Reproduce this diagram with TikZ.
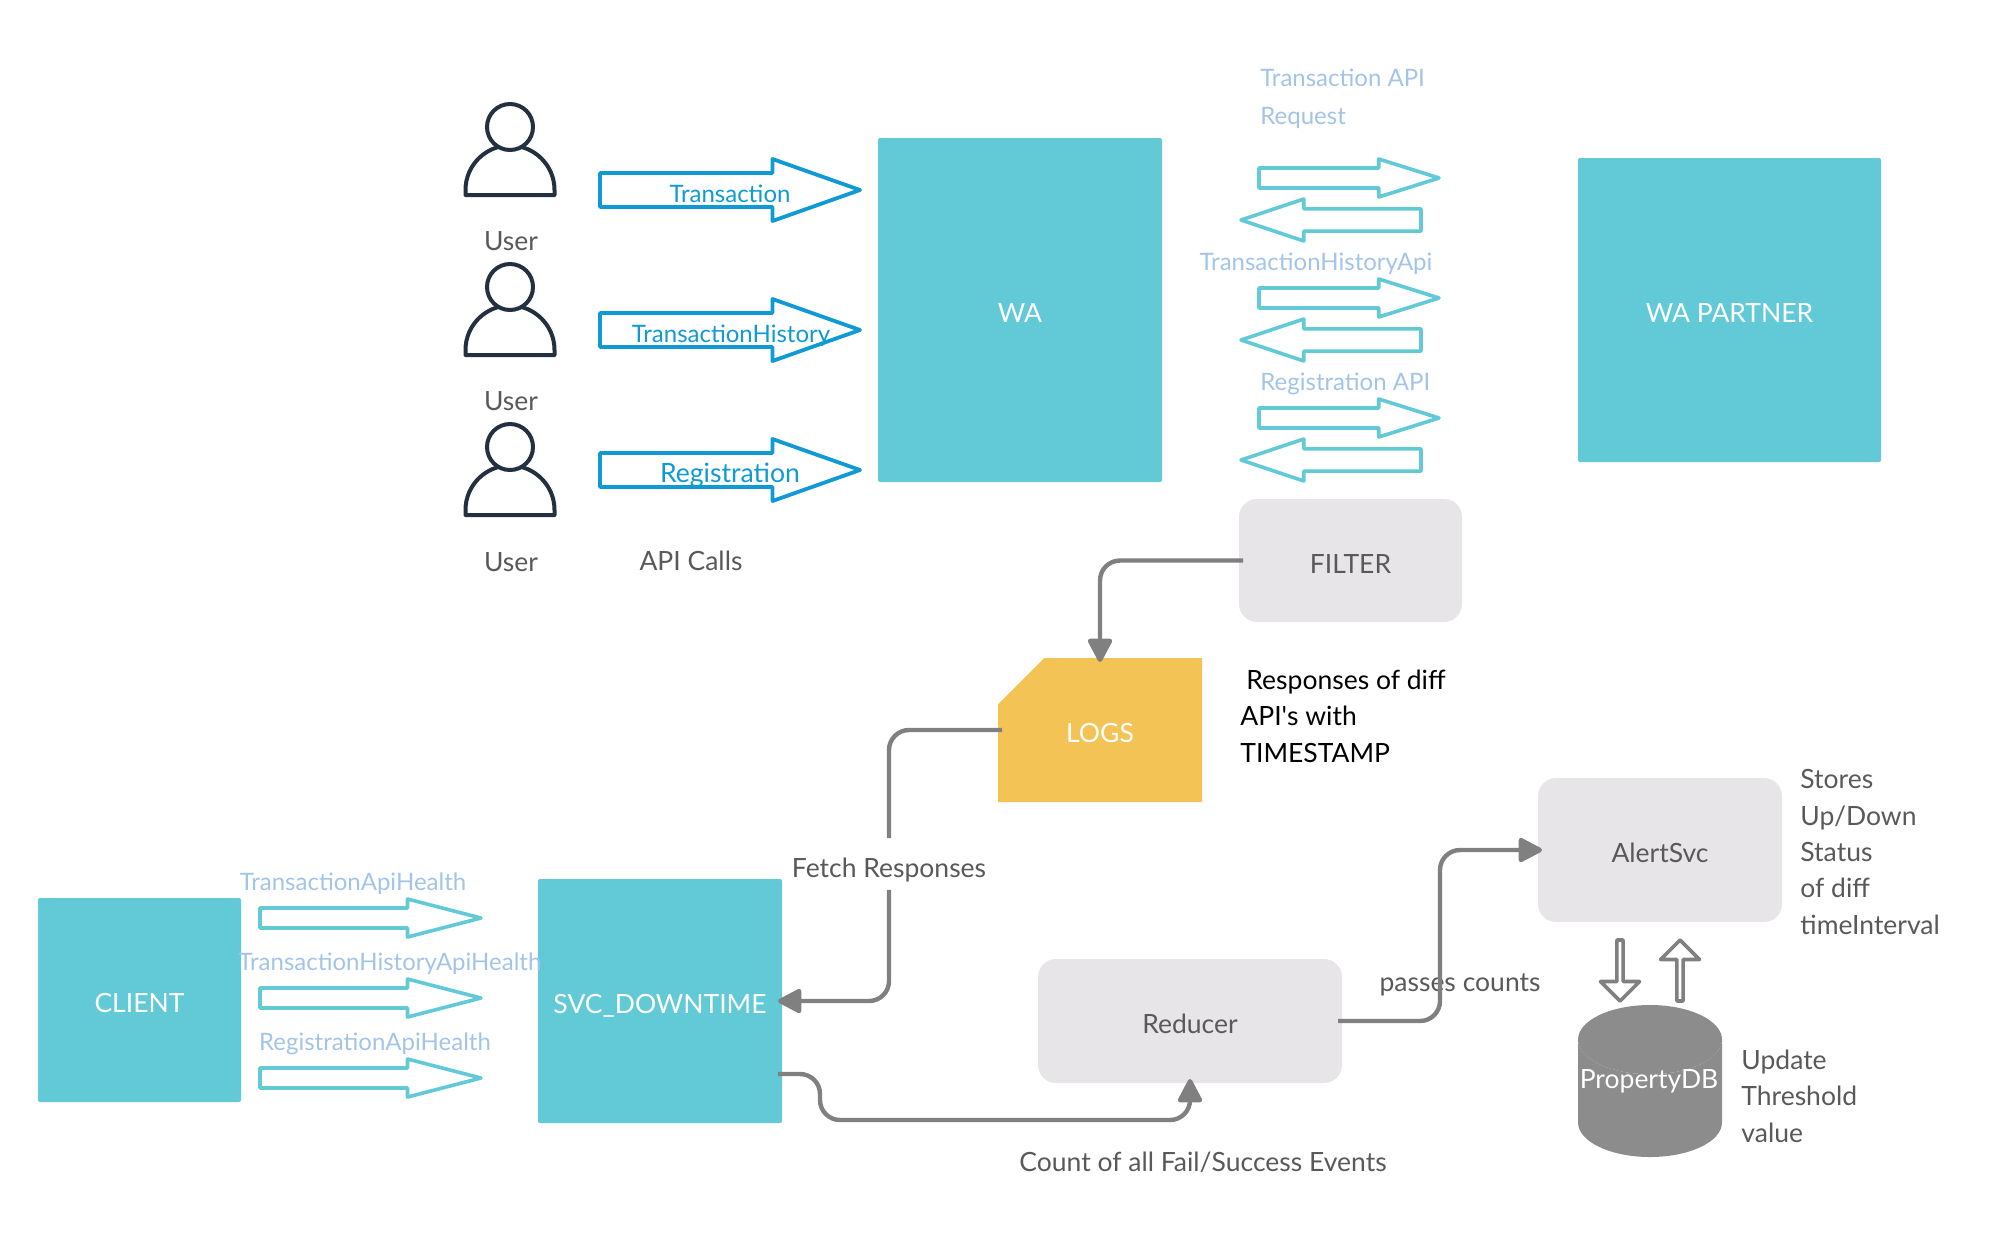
\documentclass[tikz,border=0pt]{standalone}
\usepackage{fontspec}
\setmainfont{Lato}
\usepackage{tikz}
\usetikzlibrary{arrows.meta, shapes.arrows, shapes.geometric, shapes.misc}
\definecolor{tealbox}{HTML}{62C9D6}
\definecolor{greybox}{HTML}{E8E5E8}
\definecolor{logsyellow}{HTML}{F4C356}
\definecolor{dbgrey}{HTML}{8C8C8C}
\definecolor{flowgrey}{HTML}{808080}
\definecolor{apiblue}{HTML}{0F9AD6}
\definecolor{paleblue}{HTML}{A2C4E8}
\definecolor{usernavy}{HTML}{22303F}
\definecolor{textgrey}{HTML}{595959}
\tikzstyle{mainbox}=[rectangle, fill=tealbox, rounded corners=1pt, text=white, font=\fontsize{13.25}{16}\selectfont, inner sep=0pt, outer sep=0pt, text height=12.5pt, text depth=0pt]
\tikzstyle{softbox}=[rectangle, fill=greybox, rounded corners=9pt, text=textgrey, font=\fontsize{13.25}{16}\selectfont, inner sep=0pt, outer sep=0pt, text height=12.5pt, text depth=0pt]
\tikzstyle{plaintext}=[text=textgrey, font=\fontsize{13.25}{18.2}\selectfont, inner sep=0pt, align=left]
\tikzstyle{palelabel}=[text=paleblue, font=\fontsize{12}{16}\selectfont, inner sep=0pt]
\tikzstyle{apilabel}=[text=apiblue, font=\fontsize{12}{16}\selectfont, inner sep=0pt]
\tikzstyle{blockarrow}=[single arrow, inner sep=0pt, outer sep=0pt, line join=round, single arrow head indent=0pt, anchor=tail]
\tikzstyle{apiarrow}=[blockarrow, draw=apiblue, line width=1.9pt, inner ysep=7pt, minimum height=130pt, minimum width=31pt, single arrow head extend=6.5pt, single arrow tip angle=39]
\tikzstyle{wideright}=[blockarrow, draw=tealbox, line width=1.8pt, inner ysep=3.9pt, minimum height=90pt, minimum width=19pt, single arrow head extend=4.3pt, single arrow tip angle=35]
\tikzstyle{wideleft}=[blockarrow, draw=tealbox, line width=1.8pt, inner ysep=4.6pt, minimum height=90pt, minimum width=21pt, single arrow head extend=4.9pt, single arrow tip angle=37, shape border rotate=180]
\tikzstyle{healtharrow}=[blockarrow, draw=tealbox, line width=1.8pt, inner ysep=3.9pt, minimum height=110.5pt, minimum width=19pt, single arrow head extend=4.3pt, single arrow tip angle=29]
\tikzstyle{dbarrow}=[blockarrow, draw=flowgrey, line width=1.8pt, inner ysep=4.9pt, minimum height=30.5pt, minimum width=19.5pt, single arrow head extend=4.8pt, single arrow tip angle=90]
\tikzstyle{flowline}=[draw=flowgrey, line width=2.2pt, rounded corners=10pt, shorten <=-2pt, shorten >=-2pt, -{Triangle[round, width=13pt, length=13pt]}]
\tikzstyle{usershape}=[draw=usernavy, line width=2pt, line join=round]

\begin{document}
\begin{tikzpicture}[x=.5pt, y=-.5pt]
    \useasboundingbox (0,0) rectangle (2000,1238);

    \draw[usershape] (465.5,195) -- (465.5,190) arc (180:360:44.5) -- (554.5,195) -- cycle;
    \draw[usershape, fill=white] (510,127) circle (23);
    \draw[usershape] (465.5,355) -- (465.5,350) arc (180:360:44.5) -- (554.5,355) -- cycle;
    \draw[usershape, fill=white] (510,287) circle (23);
    \draw[usershape] (465.5,515) -- (465.5,510) arc (180:360:44.5) -- (554.5,515) -- cycle;
    \draw[usershape, fill=white] (510,447) circle (23);

    \node[plaintext] (userone) at (511,241) {User};
    \node[plaintext] (usertwo) at (511,401) {User};
    \node[plaintext] (userthree) at (511,562) {User};
    \node[plaintext] (apicalls) at (691,561) {API Calls};

    \node[mainbox, minimum width=142pt, minimum height=172pt] (WA) at (1020,310) {WA};
    \node[mainbox, minimum width=151.5pt, minimum height=152pt] (WApartner) at (1729.5,310) {WA PARTNER};
    \node[softbox, minimum width=111.5pt, minimum height=61.5pt] (FILTER) at (1350.5,560.5) {FILTER};
    \node[chamfered rectangle, chamfered rectangle corners=north west, chamfered rectangle xsep=19pt, chamfered rectangle ysep=21pt, fill=logsyellow, text=white, font=\fontsize{13.25}{16}\selectfont, inner sep=0pt, outer sep=0pt, text height=12.5pt, text depth=0pt, minimum width=102pt, minimum height=72pt] (LOGS) at (1100,730) {LOGS};
    \node[mainbox, minimum width=101.5pt, minimum height=102pt] (CLIENT) at (139.5,1000) {CLIENT};
    \node[mainbox, minimum width=122pt, minimum height=122pt] (SVC) at (660,1001) {SVC\_DOWNTIME};
    \node[softbox, minimum width=152pt, minimum height=62pt] (Reducer) at (1190,1021) {Reducer};
    \node[softbox, minimum width=122pt, minimum height=72pt] (AlertSvc) at (1660,850) {AlertSvc};
    \node[cylinder, shape border rotate=90, aspect=.5, cylinder uses custom fill, cylinder body fill=dbgrey, cylinder end fill=dbgrey, font=\fontsize{13.25}{16}\selectfont, inner sep=0pt, outer sep=0pt, minimum width=72pt, minimum height=76pt, anchor=shape center] (PropertyDB) at (1650,1081) {\phantom{PropertyDB}};
    \node[text=white, font=\fontsize{13.25}{16}\selectfont, inner sep=0pt] (dblabel) at (1649,1081) {PropertyDB};

    \node[apiarrow] (txnarrow) at (600,190) {};
    \node[apiarrow] (historyarrow) at (600,330) {};
    \node[apiarrow] (regarrow) at (600,470) {};
    \node[apilabel] (txnlabel) at (730,194) {Transaction};
    \node[apilabel] (historylabel) at (731,336) {TransactionHistory};
    \node[apilabel, font=\fontsize{13.3}{16}\selectfont] (reglabel) at (730,475) {Registration};

    \node[wideright] (txnreq) at (1259,178) {};
    \node[wideleft] (txnres) at (1421,220) {};
    \node[wideright] (historyreq) at (1259,298) {};
    \node[wideleft] (historyres) at (1421,340) {};
    \node[wideright] (regreq) at (1259,418) {};
    \node[wideleft] (regres) at (1421,460) {};
    \node[palelabel, anchor=west, align=left, font=\fontsize{12}{19}\selectfont] (txnapi) at (1260,99) {Transaction API\\Request};
    \node[palelabel] (historyapi) at (1316,264) {TransactionHistoryApi};
    \node[palelabel, anchor=west] (regapi) at (1260,384) {Registration API};

    \node[healtharrow] (txnhealth) at (260,918) {};
    \node[healtharrow] (historyhealth) at (260,998) {};
    \node[healtharrow] (reghealth) at (260,1078) {};
    \node[palelabel] (txnhealthlabel) at (353,884) {TransactionApiHealth};
    \node[palelabel] (historyhealthlabel) at (390,964) {TransactionHistoryApiHealth};
    \node[palelabel] (reghealthlabel) at (375,1044) {RegistrationApiHealth};

    \node[dbarrow, shape border rotate=270] (dbdown) at (1620,940) {};
    \node[dbarrow, shape border rotate=90] (dbup) at (1680,1001) {};

    \node[plaintext, minimum height=27.5pt, text height=11.5pt, text depth=0pt] (fetchlabel) at (889,866) {Fetch Responses};
    \node[plaintext] (passes) at (1460,985) {passes counts};
    \node[plaintext] (countlabel) at (1203,1162) {Count of all Fail/Success Events};
    \node[plaintext, text=black, anchor=west] (diffnote) at (1240,716) {\hspace{3pt}Responses of diff\\API\textquotesingle s with\\TIMESTAMP};
    \node[plaintext, anchor=west] (alertnote) at (1800,852) {Stores\\Up/Down\\Status\\of diff\\timeInterval};
    \node[plaintext, anchor=west] (dbnote) at (1741,1096) {Update\\Threshold\\value};

    \coordinate (SVCout) at (782,1074);
    \draw[flowline] (FILTER.west) -| (LOGS.north);
    \draw[draw=flowgrey, line width=2.2pt, rounded corners=10pt, shorten <=-2pt] (LOGS.west) -| (fetchlabel.north);
    \draw[flowline] (fetchlabel.south) |- (SVC.east);
    \draw[flowline] (SVCout) -- ++(38,0) -- ++(0,46) -| (Reducer.south);
    \draw[flowline] (Reducer.east) -- ++(98,0) |- (AlertSvc.west);

  \end{tikzpicture}
\end{document}
